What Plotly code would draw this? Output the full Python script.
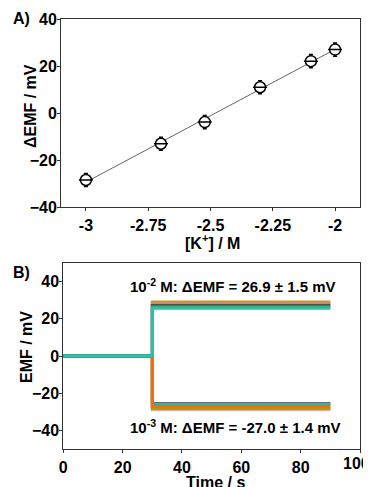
import numpy as np
import plotly.graph_objects as go

# ---- Panel A data ----
logK = [-3.0, -2.699, -2.523, -2.301, -2.097, -2.0]
dEMF = [-28.4, -13.0, -3.8, 11.0, 22.1, 27.0]
dEMF_err = [2.8, 2.8, 2.8, 2.8, 2.8, 2.8]
xticks_A = [-3, -2.75, -2.5, -2.25, -2]
xticklabels_A = ["-3", "-2.75", "-2.5", "-2.25", "-2"]

# ---- Panel B data ----
time_pts = [0, 30, 30, 90]
high_levels = [29.0, 27.9, 27.0, 26.3, 25.6]
high_colors = ["#D99A00", "#B77FD6", "#4D4D4D", "#3DAA5A", "#22C4B4"]
low_levels = [-25.4, -25.8, -28.6, -28.0, -27.0]
low_colors = ["#7A5A5A", "#2BB5A8", "#F08080", "#A5A000", "#FF6A00"]
xticks_B = [0, 20, 40, 60, 80, 100]

FONT = "Liberation Sans, Arial, sans-serif"
W, H, OFF = 363, 479, 8


def px(x):
    return (x - OFF) / W


def py(y):
    return 1 - (y - OFF) / H


fig = go.Figure()

# fit line
coef = np.polyfit(logK, dEMF, 1)
xf = [logK[0], logK[-1]]
yf = [coef[0] * v + coef[1] for v in xf]
fig.add_trace(go.Scatter(x=xf, y=yf, mode="lines", line=dict(color="#666666", width=1),
                         xaxis="x", yaxis="y", showlegend=False, hoverinfo="skip"))
fig.add_trace(go.Scatter(x=logK, y=dEMF, mode="markers",
                         error_y=dict(type="data", array=dEMF_err, color="black", thickness=1.5, width=2),
                         marker=dict(symbol="circle", size=11, color="white",
                                     line=dict(color="black", width=1.5)),
                         xaxis="x", yaxis="y", showlegend=False))
fig.add_trace(go.Scatter(x=logK, y=dEMF, mode="markers",
                         marker=dict(symbol="line-ew", size=10,
                                     line=dict(color="black", width=1.5)),
                         xaxis="x", yaxis="y", showlegend=False, hoverinfo="skip"))

# panel B lines
for lvl, col in zip(low_levels, low_colors):
    fig.add_trace(go.Scatter(x=time_pts, y=[0, 0, lvl, lvl], mode="lines",
                             line=dict(color=col, width=3), xaxis="x2", yaxis="y2",
                             showlegend=False))
for lvl, col in zip(high_levels, high_colors):
    fig.add_trace(go.Scatter(x=time_pts, y=[0, 0, lvl, lvl], mode="lines",
                             line=dict(color=col, width=3), xaxis="x2", yaxis="y2",
                             showlegend=False))

TF = dict(family=FONT, size=16, color="black", weight="bold")
axis_common = dict(showline=True, mirror=True, linecolor="#333333", linewidth=1,
                   ticks="outside", ticklen=3, tickcolor="#333333", showgrid=False,
                   zeroline=False, automargin=False, tickfont=TF)


def ann(text, x, y, angle=0, size=16):
    return dict(text=text, x=px(x), y=py(y), xref="paper", yref="paper",
                xanchor="center", yanchor="middle", showarrow=False, textangle=angle,
                font=dict(family=FONT, size=size, color="black", weight="bold"))


fig.update_layout(
    width=W, height=H, margin=dict(l=0, r=0, t=0, b=0),
    paper_bgcolor="white", plot_bgcolor="white",
    font=dict(family=FONT, color="black"),
    xaxis=dict(domain=[px(61), px(360)], range=[-3.1, -1.9], anchor="y",
               tickvals=xticks_A, ticktext=xticklabels_A,
               **axis_common),
    yaxis=dict(domain=[py(207.3), py(19)], range=[-40, 40], anchor="x",
               tickvals=[-40, -20, 0, 20, 40], ticklabelstandoff=-3,
               **axis_common),
    xaxis2=dict(domain=[px(63.3), px(360)], range=[0, 100], anchor="y2",
                tickvals=xticks_B, ticktext=[str(v) for v in xticks_B[:-1]] + [""],
                **axis_common),
    yaxis2=dict(domain=[py(449.3), py(262.7)], range=[-50, 50], anchor="x2",
                tickvals=[-40, -20, 0, 20, 40], ticklabelstandoff=-3,
                **axis_common),
    annotations=[
        ann("A)", 21, 18),
        ann("B)", 21, 272),
        ann("[K<sup>+</sup>] / M", 212, 242),
        ann("ΔEMF / mV", 30, 106, angle=-90),
        ann("Time / s", 215, 482),
        ann("EMF / mV", 26, 347, angle=-90),
        ann(str(xticks_B[-1]), 356, 463),
        ann("10<sup>-2</sup> M: ΔEMF = 26.9 ± 1.5 mV", 233, 285, size=15),
        ann("10<sup>-3</sup> M: ΔEMF = -27.0 ± 1.4 mV", 235, 426, size=15),
    ],
)

fig.write_html("out.html")
